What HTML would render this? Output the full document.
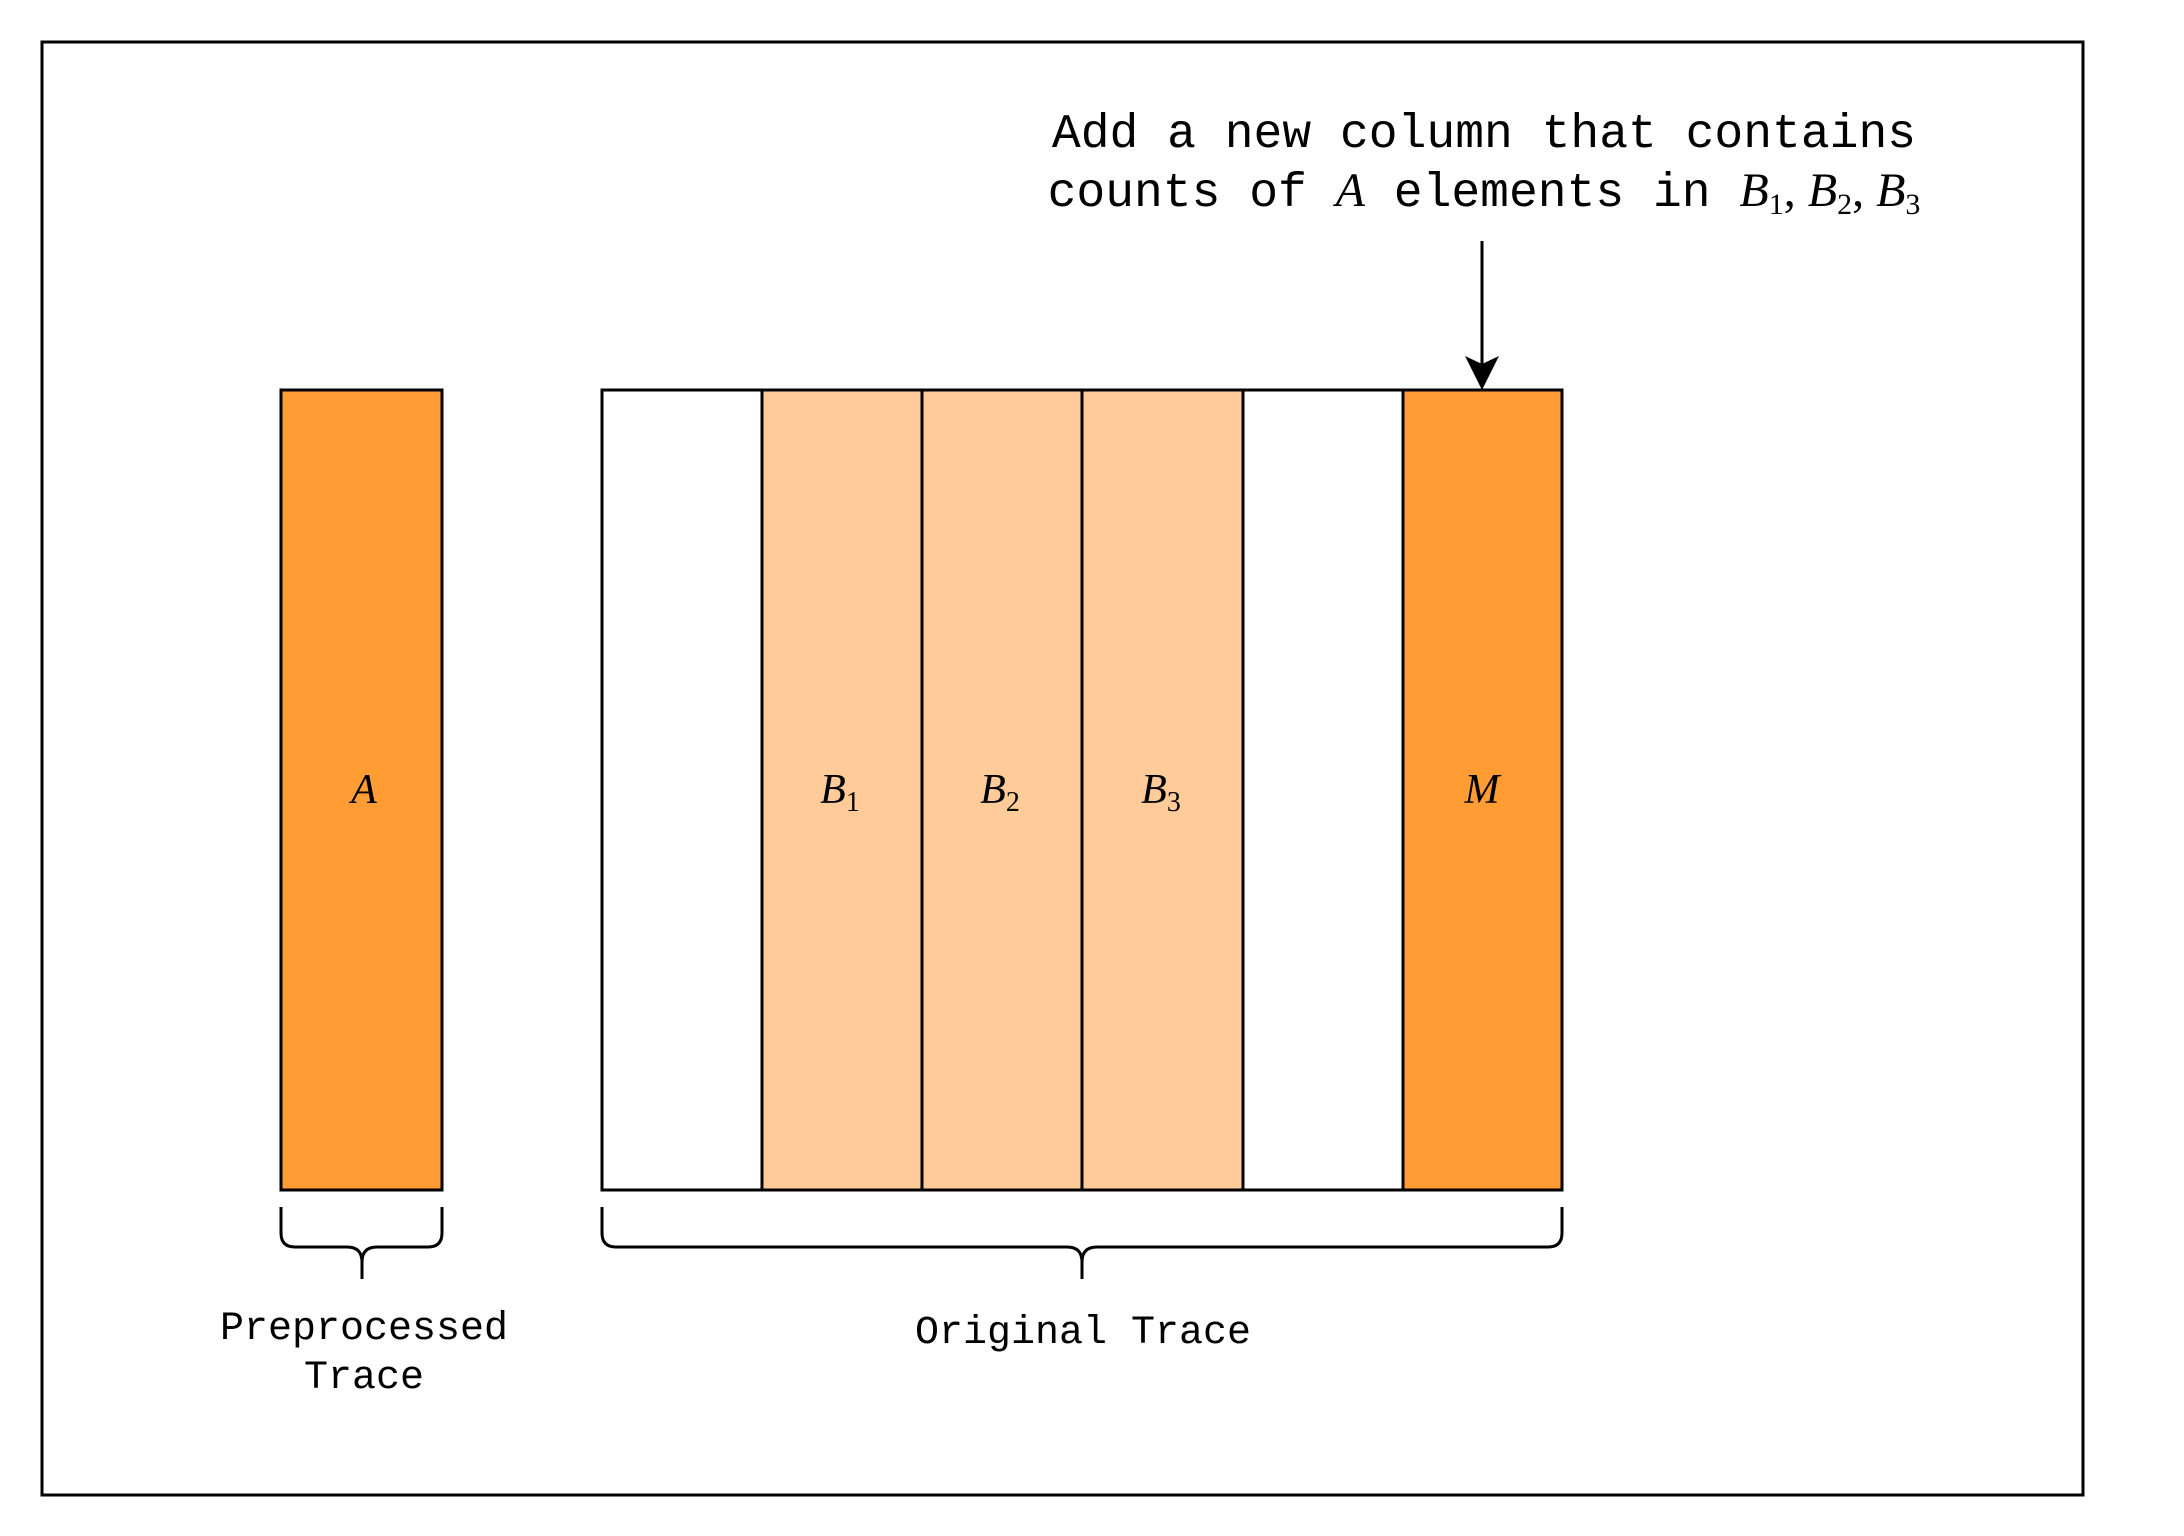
<!DOCTYPE html>
<html><head><style>html,body{margin:0;padding:0;background:#fff;}svg{display:block}</style></head>
<body>
<svg width="2184" height="1536" viewBox="0 0 2184 1536" xmlns="http://www.w3.org/2000/svg">
<rect x="0" y="0" width="2184" height="1536" fill="#fff"/>
<rect x="42" y="42" width="2041" height="1453" fill="none" stroke="#000" stroke-width="3"/>
<g stroke="#000" stroke-width="3">
<rect x="281" y="390" width="161" height="800" fill="#FF9C33"/>
<rect x="602" y="390" width="160" height="800" fill="#fff"/>
<rect x="762" y="390" width="160" height="800" fill="#FFCC99"/>
<rect x="922" y="390" width="160" height="800" fill="#FFCC99"/>
<rect x="1082" y="390" width="161" height="800" fill="#FFCC99"/>
<rect x="1243" y="390" width="160" height="800" fill="#fff"/>
<rect x="1403" y="390" width="159" height="800" fill="#FF9C33"/>
</g>
<g fill="none" stroke="#000" stroke-width="3">
<path d="M281 1207 V1233 Q281 1247 295 1247 H347 Q362 1247 362 1262 V1279 M362 1262 Q362 1247 377 1247 H428 Q442 1247 442 1233 V1207"/>
<path d="M602 1207 V1233 Q602 1247 616 1247 H1067 Q1082 1247 1082 1262 V1279 M1082 1262 Q1082 1247 1097 1247 H1548 Q1562 1247 1562 1233 V1207"/>
<line x1="1482" y1="241" x2="1482" y2="370"/>
</g>
<path d="M1482 390 L1465 356 L1482 364 L1499 356 Z" fill="#000"/>
<g font-family="'Liberation Serif',serif" font-style="italic" font-size="42" text-anchor="middle">
<text x="364" y="803">A</text>
<text x="840" y="803">B<tspan font-style="normal" font-size="28" dy="8">1</tspan></text>
<text x="1000" y="803">B<tspan font-style="normal" font-size="28" dy="8">2</tspan></text>
<text x="1161" y="803">B<tspan font-style="normal" font-size="28" dy="8">3</tspan></text>
<text x="1482" y="803">M</text>
</g>
<g font-family="'Liberation Mono',monospace" font-size="48" text-anchor="middle">
<text x="1484" y="147">Add a new column that contains</text>
<text x="1484" y="206">counts of <tspan font-family="'Liberation Serif',serif" font-style="italic">A</tspan> elements in <tspan font-family="'Liberation Serif',serif" font-style="italic">B</tspan><tspan font-family="'Liberation Serif',serif" font-size="30" dy="8">1</tspan><tspan font-family="'Liberation Serif',serif" dy="-8">, </tspan><tspan font-family="'Liberation Serif',serif" font-style="italic">B</tspan><tspan font-family="'Liberation Serif',serif" font-size="30" dy="8">2</tspan><tspan font-family="'Liberation Serif',serif" dy="-8">, </tspan><tspan font-family="'Liberation Serif',serif" font-style="italic">B</tspan><tspan font-family="'Liberation Serif',serif" font-size="30" dy="8">3</tspan></text>
</g>
<g font-family="'Liberation Mono',monospace" font-size="40" text-anchor="middle">
<text x="364" y="1339">Preprocessed</text>
<text x="364" y="1388">Trace</text>
<text x="1083" y="1343">Original Trace</text>
</g>
</svg>
</body></html>
